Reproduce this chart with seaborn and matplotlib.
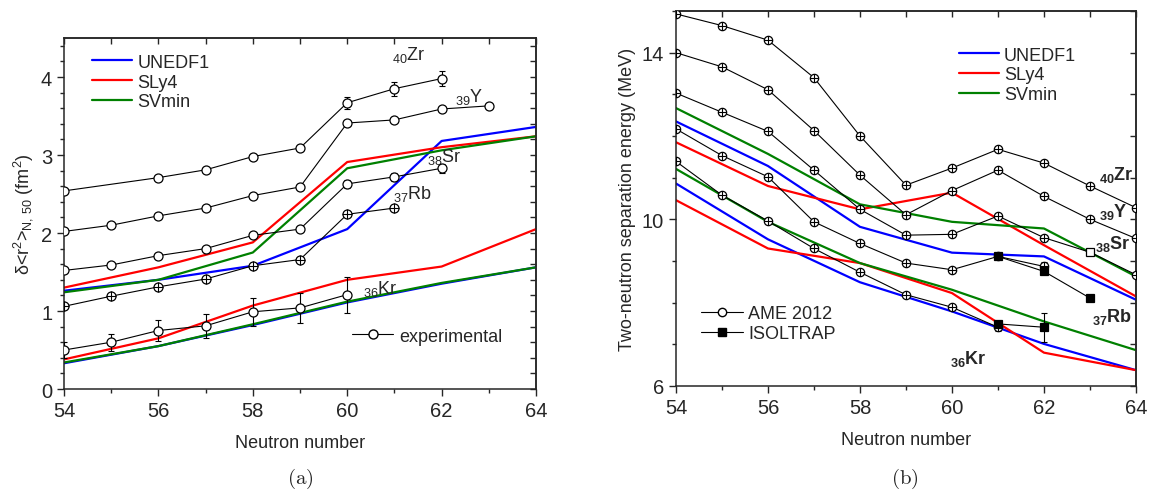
import numpy as np
import seaborn as sns
import matplotlib.pyplot as plt
from matplotlib.lines import Line2D
from matplotlib.ticker import MultipleLocator, FixedLocator

# ---------------- panel (a): delta <r^2> ----------------
n_even = [54, 56, 58, 60, 62, 64]

unedf1_hi_a = [1.26, 1.40, 1.58, 2.05, 3.18, 3.36]
sly4_hi_a = [1.30, 1.56, 1.88, 2.91, 3.10, 3.24]
svmin_hi_a = [1.24, 1.40, 1.75, 2.83, 3.06, 3.24]
unedf1_lo_a = [0.33, 0.55, 0.82, 1.11, 1.35, 1.56]
sly4_lo_a = [0.38, 0.65, 1.07, 1.40, 1.57, 2.05]
svmin_lo_a = [0.34, 0.55, 0.83, 1.12, 1.36, 1.56]

zr_n = [54, 56, 57, 58, 59, 60, 61, 62]
zr_r = [2.54, 2.71, 2.81, 2.98, 3.09, 3.67, 3.85, 3.98]
zr_err = [0.02, 0.02, 0.02, 0.03, 0.03, 0.08, 0.09, 0.10]
y_n = [54, 55, 56, 57, 58, 59, 60, 61, 62, 63]
y_r = [2.02, 2.10, 2.22, 2.32, 2.48, 2.59, 3.41, 3.45, 3.59, 3.63]
sr_n = [54, 55, 56, 57, 58, 59, 60, 61, 62]
sr_r = [1.52, 1.59, 1.71, 1.80, 1.97, 2.05, 2.63, 2.72, 2.83]
sr_err = [0.02, 0.02, 0.02, 0.02, 0.03, 0.03, 0.05, 0.05, 0.06]
rb_n = [54, 55, 56, 57, 58, 59, 60, 61]
rb_r = [1.06, 1.19, 1.31, 1.41, 1.58, 1.66, 2.24, 2.32]
kr_n = [54, 55, 56, 57, 58, 59, 60]
kr_r = [0.50, 0.60, 0.75, 0.81, 0.99, 1.04, 1.21]
kr_err = [0.10, 0.11, 0.14, 0.15, 0.18, 0.19, 0.23]

# ---------------- panel (b): S2n ----------------
unedf1_hi_b = [12.35, 11.28, 9.82, 9.20, 9.11, 8.07]
sly4_hi_b = [11.85, 10.80, 10.24, 10.64, 9.38, 8.15]
svmin_hi_b = [12.67, 11.57, 10.36, 9.94, 9.78, 8.63]
unedf1_lo_b = [10.86, 9.52, 8.49, 7.79, 7.01, 6.38]
sly4_lo_b = [10.46, 9.30, 8.95, 8.23, 6.80, 6.38]
svmin_lo_b = [11.21, 9.94, 8.95, 8.31, 7.55, 6.86]

ame_n = [54, 55, 56, 57, 58, 59, 60, 61, 62, 63, 64]
ame_zr = [14.93, 14.65, 14.30, 13.40, 12.00, 10.82, 11.23, 11.68, 11.35, 10.80, 10.28]
ame_y = [14.00, 13.66, 13.11, 12.13, 11.06, 10.11, 10.69, 11.18, 10.55, 10.00, 9.54]
ame_sr = [13.03, 12.57, 12.11, 11.18, 10.24, 9.62, 9.64, 10.08, 9.56, 9.21, 8.67]
ame_sr_square = [63]  # this point is drawn as an open square
ame_rb_n = [54, 55, 56, 57, 58, 59, 60, 61, 62]
ame_rb = [12.17, 11.53, 11.02, 9.94, 9.42, 8.95, 8.79, 9.11, 8.87]
ame_rb_err = [0.02, 0.02, 0.02, 0.02, 0.02, 0.02, 0.02, 0.02, 0.10]
ame_kr_n = [54, 55, 56, 57, 58, 59, 60, 61]
ame_kr = [11.39, 10.58, 9.96, 9.30, 8.73, 8.19, 7.89, 7.41]
ame_kr_err = [0.02, 0.02, 0.02, 0.02, 0.02, 0.02, 0.02, 0.09]
iso_rb_n = [61, 62, 63]
iso_rb = [9.11, 8.75, 8.11]
iso_kr_n = [61, 62]
iso_kr = [7.49, 7.41]
iso_kr_err = [0.05, 0.35]

BLUE, RED, GREEN = "#0000ff", "#ff0000", "#008000"

sns.set_style("ticks")
plt.rcParams["font.family"] = ["Liberation Sans", "DejaVu Sans"]
plt.rcParams["mathtext.fontset"] = "custom"
plt.rcParams["mathtext.rm"] = "Liberation Sans"
plt.rcParams["mathtext.it"] = "Liberation Sans:italic"
plt.rcParams["mathtext.bf"] = "Liberation Sans:bold"
plt.rcParams["mathtext.default"] = "regular"
plt.rcParams["axes.linewidth"] = 1.1

fig = plt.figure(figsize=(11.5, 5.02), dpi=100)
axA = fig.add_axes([0.0557, 0.2231, 0.4104, 0.6992])
axB = fig.add_axes([0.5878, 0.2291, 0.4, 0.747])


def theory(ax, n, vals, color):
    sns.lineplot(x=n, y=vals, ax=ax, color=color, lw=1.6, zorder=2)


def exp_series(ax, n, vals, err=None, cross=False, marker="o", ms=6.5, fill="white",
               skip=()):
    sns.lineplot(x=n, y=vals, ax=ax, color="black", lw=0.8, zorder=3)
    if err is not None:
        ax.errorbar(n, vals, yerr=err, fmt="none", ecolor="black",
                    elinewidth=0.8, capsize=2.5, capthick=0.8, zorder=3)
    keep = [i for i, x in enumerate(n) if x not in skip]
    ax.plot(n, vals, ls="none", marker=marker, ms=ms, mfc=fill, markevery=keep,
            mec="black", mew=0.9, zorder=4)
    if cross:
        ax.plot(n, vals, ls="none", marker="+", ms=ms, mec="black", markevery=keep,
                mew=0.8, zorder=5)
    for i, x in enumerate(n):
        if x in skip:
            ax.plot([x], [vals[i]], ls="none", marker="s", ms=ms - 0.5, mfc="white",
                    mec="black", mew=0.9, zorder=4)


def mirror(ax, xmaj, xmin, yticks, ymin):
    ax.xaxis.set_major_locator(MultipleLocator(xmaj))
    ax.xaxis.set_minor_locator(MultipleLocator(xmin))
    ax.yaxis.set_major_locator(FixedLocator(yticks))
    ax.yaxis.set_minor_locator(MultipleLocator(ymin))
    ax.tick_params(which="major", direction="out", length=5, width=1.0, labelsize=14.5)
    ax.tick_params(which="minor", direction="out", length=3, width=1.0)
    top = ax.secondary_xaxis("top")
    top.xaxis.set_major_locator(MultipleLocator(xmaj))
    top.xaxis.set_minor_locator(MultipleLocator(xmin))
    top.tick_params(which="both", direction="in", labeltop=False, length=4, width=1.0)
    right = ax.secondary_yaxis("right")
    right.yaxis.set_major_locator(FixedLocator(yticks))
    right.yaxis.set_minor_locator(MultipleLocator(ymin))
    right.tick_params(which="both", direction="in", labelright=False, length=4, width=1.0)


# ---- panel (a) ----
for vals, col in [(unedf1_hi_a, BLUE), (sly4_hi_a, RED), (svmin_hi_a, GREEN),
                  (unedf1_lo_a, BLUE), (sly4_lo_a, RED), (svmin_lo_a, GREEN)]:
    theory(axA, n_even, vals, col)

exp_series(axA, zr_n, zr_r, zr_err)
exp_series(axA, y_n, y_r)
exp_series(axA, sr_n, sr_r, sr_err)
exp_series(axA, rb_n, rb_r, cross=True)
exp_series(axA, kr_n, kr_r, kr_err)

axA.set_xlim(54, 64)
axA.set_ylim(0, 4.5)
mirror(axA, 2, 1, [0, 1, 2, 3, 4], 0.2)
axA.set_xlabel("Neutron number", fontsize=13, labelpad=10)
axA.set_ylabel(r"δ<r$^{2}$>$_{N,\,50}$ (fm$^{2}$)", fontsize=13, labelpad=4)

for x, y, s in [(60.95, 4.30, r"$_{40}$Zr"), (62.28, 3.76, r"$_{39}$Y"),
                (61.68, 2.99, r"$_{38}$Sr"), (60.97, 2.51, r"$_{37}$Rb"),
                (60.33, 1.30, r"$_{36}$Kr")]:
    axA.text(x, y, s, fontsize=13, ha="left", va="center")

th_handles = [Line2D([], [], color=BLUE, lw=1.6, label="UNEDF1"),
              Line2D([], [], color=RED, lw=1.6, label="SLy4"),
              Line2D([], [], color=GREEN, lw=1.6, label="SVmin")]
legA = axA.legend(handles=th_handles, loc="upper left", bbox_to_anchor=(0.06, 0.955),
                  frameon=False, fontsize=13, handlelength=2.2, handletextpad=0.3,
                  labelspacing=0.15, borderpad=0, borderaxespad=0)
axA.add_artist(legA)
axA.legend(handles=[Line2D([], [], color="black", lw=0.8, marker="o", ms=6.5,
                           mfc="white", mec="black", label="experimental")],
           loc="upper left", bbox_to_anchor=(0.61, 0.175), frameon=False, fontsize=13,
           handlelength=2.3, handletextpad=0.3, borderpad=0, borderaxespad=0,
           numpoints=1)

# ---- panel (b) ----
for vals, col in [(unedf1_hi_b, BLUE), (sly4_hi_b, RED), (svmin_hi_b, GREEN),
                  (unedf1_lo_b, BLUE), (sly4_lo_b, RED), (svmin_lo_b, GREEN)]:
    theory(axB, n_even, vals, col)

exp_series(axB, ame_n, ame_zr, cross=True, ms=6)
exp_series(axB, ame_n, ame_y, cross=True, ms=6)
exp_series(axB, ame_n, ame_sr, cross=True, ms=6, skip=ame_sr_square)
exp_series(axB, ame_rb_n, ame_rb, ame_rb_err, cross=True, ms=6)
exp_series(axB, ame_kr_n, ame_kr, ame_kr_err, cross=True, ms=6)
exp_series(axB, iso_rb_n, iso_rb, marker="s", ms=6, fill="black")
exp_series(axB, iso_kr_n, iso_kr, iso_kr_err, marker="s", ms=6, fill="black")

axB.set_xlim(54, 64)
axB.set_ylim(6, 15)
mirror(axB, 2, 1, [6, 10, 14], 1)
axB.set_xlabel("Neutron number", fontsize=13, labelpad=10)
axB.set_ylabel("Two-neutron separation energy (MeV)", fontsize=13, labelpad=4)

for x, y, s in [(63.2, 11.08, r"$_{\mathbf{40}}$Zr"), (63.2, 10.2, r"$_{\mathbf{39}}$Y"),
                (63.12, 9.42, r"$_{\mathbf{38}}$Sr"), (63.05, 7.68, r"$_{\mathbf{37}}$Rb"),
                (59.95, 6.66, r"$_{\mathbf{36}}$Kr")]:
    axB.text(x, y, s, fontsize=13, fontweight="bold", ha="left", va="center")

legB = axB.legend(handles=th_handles, loc="upper left", bbox_to_anchor=(0.615, 0.905),
                  frameon=False, fontsize=13, handlelength=2.2, handletextpad=0.3,
                  labelspacing=0.15, borderpad=0, borderaxespad=0)
axB.add_artist(legB)
axB.legend(handles=[Line2D([], [], color="black", lw=0.8, marker="o", ms=6,
                           mfc="white", mec="black", label="AME 2012"),
                    Line2D([], [], color="black", lw=0.8, marker="s", ms=6,
                           mfc="black", mec="black", label="ISOLTRAP")],
           loc="upper left", bbox_to_anchor=(0.055, 0.215), frameon=False, fontsize=13,
           handlelength=2.3, handletextpad=0.3, labelspacing=0.15, borderpad=0,
           borderaxespad=0, numpoints=1)

fig.text(0.261, 0.035, r"$\mathrm{(a)}$", fontsize=15, ha="center", math_fontfamily="cm")
fig.text(0.787, 0.035, r"$\mathrm{(b)}$", fontsize=15, ha="center", math_fontfamily="cm")

fig.savefig("out.png", dpi=100)
